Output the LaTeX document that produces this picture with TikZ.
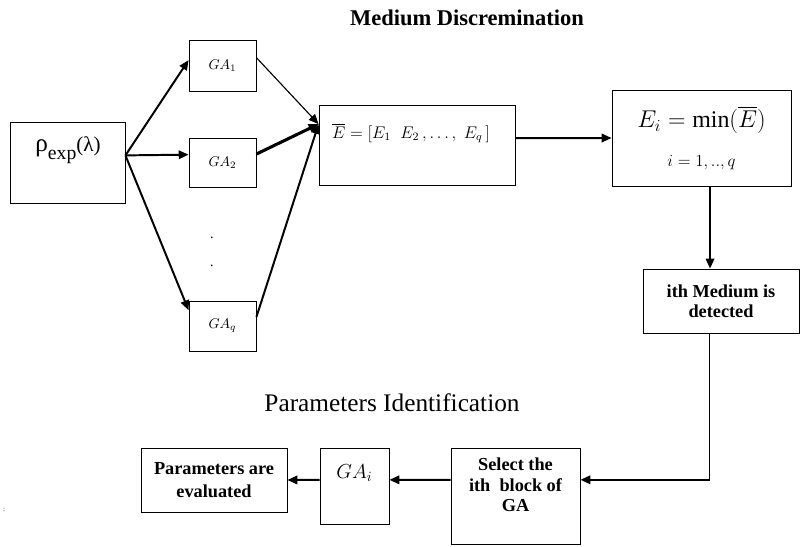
\documentclass[tikz,border=0pt]{standalone}
\usepackage{amsmath}
\usepackage{fontspec}
\setmainfont{Liberation Serif}
\usepackage{tikz}
\usetikzlibrary{positioning, arrows.meta, calc}

\begin{document}
\begin{tikzpicture}[
  x=0.025cm, y=-0.025cm,
  box/.style={draw, line width=0.6pt, inner sep=0pt, align=center},
  boxtext/.style={font=\fontsize{13}{14.5}\selectfont\bfseries, align=center, inner sep=0pt},
  title/.style={font=\fontsize{16}{18}\selectfont, inner sep=0pt},
  arr/.style={-{Triangle[length=7pt,width=6pt]}, line width=1.4pt},
]
  \useasboundingbox (0,0) rectangle (801,546);

  \node[title] (ttop) at (467,18) {\bfseries Medium Discremination};
  \node[title, font=\fontsize{18}{20}\selectfont] (tbot) at (392,403) {Parameters Identification};

  \node[box, minimum width=2.875cm, minimum height=2.025cm] (rho) at (67.5,162.5) {};
  \node[inner sep=0pt] (rhot) at (68,150) {{\fontsize{18}{18}\selectfont ρ}\raisebox{-6pt}{\fontsize{14}{14}\selectfont exp}{\fontsize{15}{15}\selectfont(λ)}};

  \node[box, minimum width=1.675cm, minimum height=1.275cm] (ga1) at (222.5,65.5) {$GA_1$};
  \node[box, minimum width=1.675cm, minimum height=1.225cm] (ga2) at (222.5,162.5) {$GA_2$};
  \node[box, minimum width=1.675cm, minimum height=1.25cm] (gaq) at (222.5,326) {$GA_q$};
  \node (dot1) at (212,238) {.};
  \node (dot2) at (212,266) {.};

  \node[box, minimum width=4.9cm, minimum height=2cm] (ebar) at (417,145) {};
  \node[inner sep=0pt] (ebart) at (411,133) {\large $\overline{E}=[E_1\;\;E_2\,,\ldots,\;E_q\,]$};

  \node[box, minimum width=4.475cm, minimum height=2.4cm] (emin) at (701.5,138)
    {{\fontsize{17}{19}\selectfont $E_i=\min(\overline{E})$}\\[14pt]{\large $i=1,..,q$}};

  \node[box, minimum width=3.9cm, minimum height=1.6cm, font=\fontsize{13}{14.5}\selectfont\bfseries] (det) at (721,301) {ith Medium is\\detected};

  \node[box, minimum width=3.225cm, minimum height=2.4cm] (sel) at (515.5,496) {};
  \node[boxtext] (selt) at (515.5,485) {Select the\\ith\ \ block of\\GA};

  \node[box, minimum width=1.725cm, minimum height=1.9cm] (gai) at (354.5,486) {};
  \node[inner sep=0pt] (gait) at (354.5,473) {\Large $GA_i$};

  \node[box, minimum width=3.65cm, minimum height=1.6cm, font=\fontsize{13}{16}\selectfont\bfseries] (par) at (214,480) {Parameters are\\evaluated};

  \node[inner sep=0pt, font=\tiny] (colon) at (4,510) {:};

  \draw[arr] (rho.7) -- (ga1.171);
  \draw[arr] (rho.7) -- (ga2.167);
  \draw[arr] (rho.7) -- (gaq.155);
  \draw[arr, line width=0.8pt] (ga1.13) -- (ebar.168);
  \draw[arr, line width=2.2pt] (ga2.14) -- (ebar.168);
  \draw[arr] (gaq.15) -- (ebar.168);
  \draw[arr] (ebar.4) -- (emin.west);
  \draw[arr] (emin.-80) -- (emin.-80 |- det.north);
  \coordinate (turn) at (det.-109 |- sel.14);
  \draw[line width=0.7pt] (det.-109) -- (turn);
  \draw[arr] (turn) -- (sel.14);
  \draw[arr] (sel.166) -- (gai.10);
  \draw[arr] (gai.170) -- (par.east);
\end{tikzpicture}
\end{document}
